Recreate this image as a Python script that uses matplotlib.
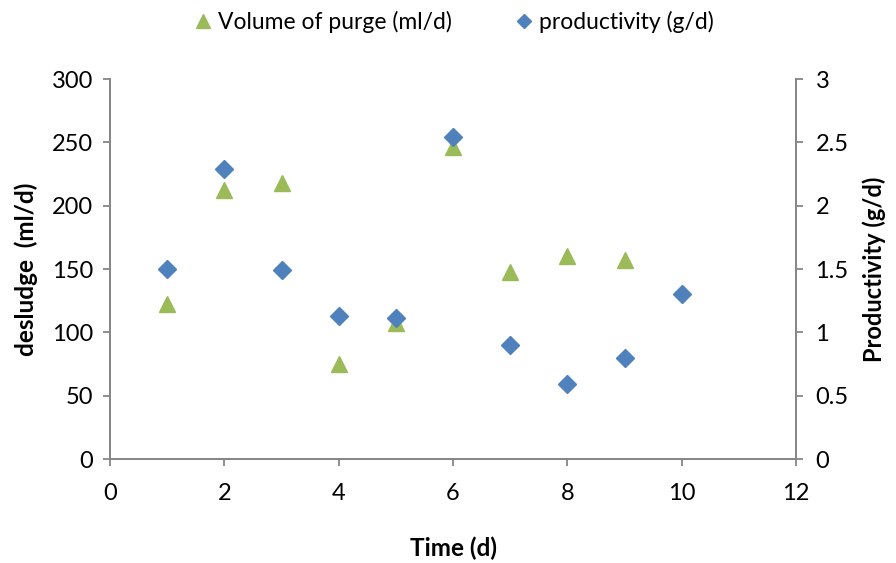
import matplotlib
matplotlib.use("Agg")
import matplotlib.pyplot as plt
from matplotlib.lines import Line2D

# values
days_purge = [1, 2, 3, 4, 5, 6, 7, 8, 9]
volume_purge = [122, 212, 218, 75, 107, 246, 148, 160, 157]
days_prod = [1, 2, 3, 4, 5, 6, 7, 8, 9, 10]
productivity = [1.50, 2.29, 1.49, 1.13, 1.11, 2.54, 0.90, 0.59, 0.80, 1.30]

x_ticks = [0, 2, 4, 6, 8, 10, 12]
left_ticks = [0, 50, 100, 150, 200, 250, 300]
right_ticks = [0, 0.5, 1, 1.5, 2, 2.5, 3]
right_labels = ["0", "0.5", "1", "1.5", "2", "2.5", "3"]

green = "#9BBB59"
blue = "#4F81BD"
grey = "#868686"

plt.rcParams['font.family'] = ['Lato', 'DejaVu Sans']

fig = plt.figure(figsize=(8.96, 5.63), dpi=100)
ax = fig.add_axes([110/896, 1 - 459/563, 686/896, 380/563])
ax2 = ax.twinx()

ax.plot(days_purge, volume_purge, linestyle='none', marker='^', ms=11,
        color=green, mec=green)
ax2.plot(days_prod, productivity, linestyle='none', marker='D', ms=9,
         color=blue, mec=blue)

ax.set_xlim(0, 12)
ax.set_ylim(0, 300)
ax2.set_ylim(0, 3)
ax.set_xticks(x_ticks)
ax.set_yticks(left_ticks)
ax2.set_yticks(right_ticks)
ax2.set_yticklabels(right_labels)

for a in (ax, ax2):
    a.spines['top'].set_visible(False)
    for s in ('left', 'right', 'bottom'):
        a.spines[s].set_color(grey)
        a.spines[s].set_linewidth(1.3)
    a.tick_params(direction='out', length=5, width=1.3, color=grey,
                  labelsize=17, pad=7)
ax.tick_params(axis='x', pad=12)
ax2.tick_params(axis='y', pad=9)

ax.set_xlabel("Time (d)", fontweight='bold', fontsize=17.5, labelpad=24)
ax.set_ylabel("desludge  (ml/d)", fontweight='bold', fontsize=17.5, labelpad=10)
ax2.set_ylabel("Productivity (g/d)", fontweight='bold', fontsize=17, labelpad=10)

handles = [
    Line2D([], [], linestyle='none', marker='^', ms=10, color=green),
    Line2D([], [], linestyle='none', marker='D', ms=7.5, color=blue),
]
fig.legend(handles, ["Volume of purge (ml/d)", "productivity (g/d)"],
           loc='center', bbox_to_anchor=(0.505, 1 - 22/563), ncol=2,
           frameon=False, fontsize=16.5, handletextpad=0.1, columnspacing=2.6,
           handlelength=1.1)

fig.savefig("out.png", dpi=100)
